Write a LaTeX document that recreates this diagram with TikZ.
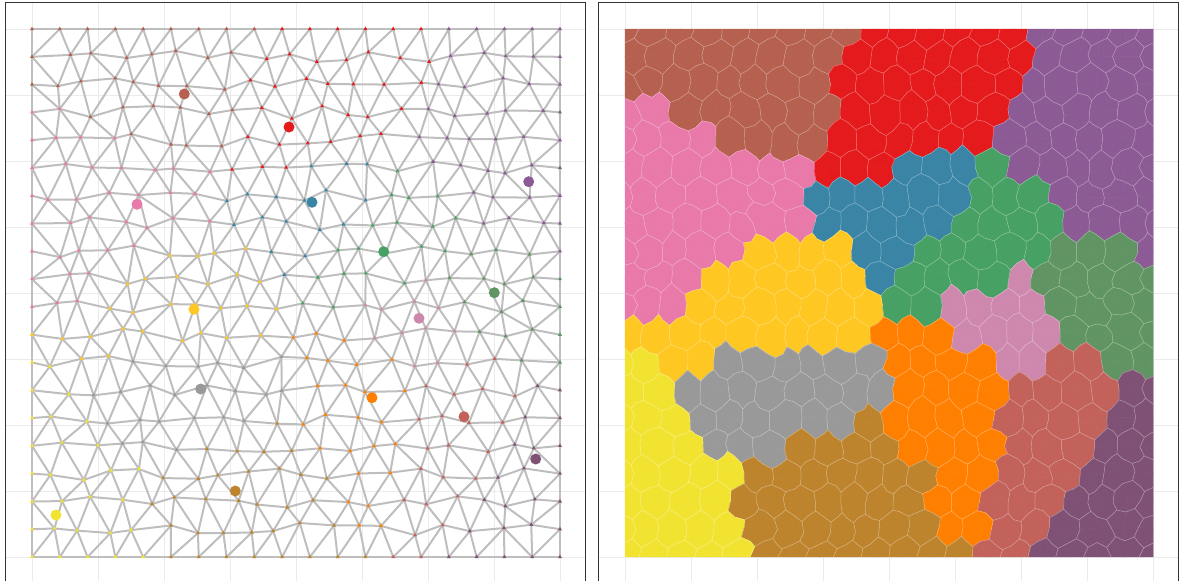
\documentclass[tikz,border=0pt]{standalone}
\usepackage{tikz}
\usetikzlibrary{
  calc
}

\definecolor{cBrick}{HTML}{B6604F}
\definecolor{cRed}{HTML}{E41A1C}
\definecolor{cPink}{HTML}{E879A8}
\definecolor{cBlue}{HTML}{3A84A6}
\definecolor{cPurple}{HTML}{8C5A94}
\definecolor{cGreen}{HTML}{47A064}
\definecolor{cSage}{HTML}{619463}
\definecolor{cGold}{HTML}{FEC722}
\definecolor{cMauve}{HTML}{CE88AE}
\definecolor{cGray}{HTML}{999999}
\definecolor{cOrange}{HTML}{FF7F00}
\definecolor{cSalmon}{HTML}{C2625A}
\definecolor{cPlum}{HTML}{7F5275}
\definecolor{cOchre}{HTML}{BD842D}
\definecolor{cYellow}{HTML}{F2E331}
\definecolor{gridline}{HTML}{EBEBEB}
\definecolor{meshline}{HTML}{BEBEBE}
\definecolor{frameline}{HTML}{333333}

\tikzset{
  meshedge/.style={draw=meshline, line width=2pt, line cap=round},
  panelgrid/.style={draw=gridline, line width=1pt},
  panelframe/.style={draw=frameline, line width=1pt},
  seedpt/.style={circle, inner sep=0pt, minimum size=11pt},
  cellfill/.style={line width=0.5pt, line join=round},
  cellline/.style={draw=white, draw opacity=0.4, line width=0.5pt}
}

\def\seedlist{184.3/94/cBrick,289/127/cRed,137/204.3/cPink,312/202.3/cBlue,528.7/181.7/cPurple,383.7/251.7/cGreen,494.3/292.7/cSage,194/309.3/cGold,419/318.3/cMauve,200.7/389/cGray,372/397.7/cOrange,464/416.7/cSalmon,535.7/459/cPlum,235.3/491/cOchre,56/515/cYellow}

\newcommand\vx[1]{\csname mx#1\endcsname}
\newcommand\vy[1]{\csname my#1\endcsname}

\newcommand\cellpiece[3]{%
  \edef\cAx{\vx{#1}}\edef\cAy{\vy{#1}}%
  \edef\cBx{\vx{#2}}\edef\cBy{\vy{#2}}%
  \edef\cCx{\vx{#3}}\edef\cCy{\vy{#3}}%
  \edef\cA{\csname vc#1\endcsname}%
  \edef\cB{\csname vc#2\endcsname}%
  \edef\cC{\csname vc#3\endcsname}%
  \path[cellfill, fill=\cA, draw=\cA] (\cAx,\cAy) -- ({(\cAx+\cBx)/2},{(\cAy+\cBy)/2})
    -- ({(\cAx+\cBx+\cCx)/3},{(\cAy+\cBy+\cCy)/3}) -- ({(\cAx+\cCx)/2},{(\cAy+\cCy)/2}) -- cycle;
  \path[cellfill, fill=\cB, draw=\cB] (\cBx,\cBy) -- ({(\cBx+\cCx)/2},{(\cBy+\cCy)/2})
    -- ({(\cAx+\cBx+\cCx)/3},{(\cAy+\cBy+\cCy)/3}) -- ({(\cAx+\cBx)/2},{(\cAy+\cBy)/2}) -- cycle;
  \path[cellfill, fill=\cC, draw=\cC] (\cCx,\cCy) -- ({(\cAx+\cCx)/2},{(\cAy+\cCy)/2})
    -- ({(\cAx+\cBx+\cCx)/3},{(\cAy+\cBy+\cCy)/3}) -- ({(\cBx+\cCx)/2},{(\cBy+\cCy)/2}) -- cycle;
}

\newcommand\cellborder[3]{%
  \edef\cAx{\vx{#1}}\edef\cAy{\vy{#1}}%
  \edef\cBx{\vx{#2}}\edef\cBy{\vy{#2}}%
  \edef\cCx{\vx{#3}}\edef\cCy{\vy{#3}}%
  \coordinate (gc) at ({(\cAx+\cBx+\cCx)/3},{(\cAy+\cBy+\cCy)/3});
  \draw[cellline] (gc) -- ({(\cAx+\cBx)/2},{(\cAy+\cBy)/2})
    (gc) -- ({(\cBx+\cCx)/2},{(\cBy+\cCy)/2})
    (gc) -- ({(\cAx+\cCx)/2},{(\cAy+\cCy)/2});
}

\begin{document}
\begin{tikzpicture}[x=1pt,y=-1pt]
  \useasboundingbox (0,0) rectangle (1179,581);

  % panel grids
  \foreach \k in {0,...,8}{
    \draw[panelgrid] ({32+66*\k},2.7) -- ({32+66*\k},582);
    \draw[panelgrid] (5.3,{29+66*\k}) -- (585.7,{29+66*\k});
    \draw[panelgrid] ({625+66*\k},2.7) -- ({625+66*\k},582);
    \draw[panelgrid] (598.3,{29+66*\k}) -- (1178.5,{29+66*\k});
  }

  % mesh vertices, region of each vertex
  \pgfmathsetseed{4711}
  \foreach \i in {0,...,19}{
    \foreach \j in {0,...,19}{
      \pgfmathsetmacro{\dx}{rand*6.5+6*(2*mod(\j,2)-1)}
      \pgfmathsetmacro{\dy}{rand*6.5}
      \ifnum\i=0 \def\dx{0}\def\dy{0}\fi
      \ifnum\i=19 \def\dx{0}\def\dy{0}\fi
      \ifnum\j=0 \def\dx{0}\def\dy{0}\fi
      \ifnum\j=19 \def\dx{0}\def\dy{0}\fi
      \pgfmathsetmacro{\px}{32+27.789*\i+\dx}
      \pgfmathsetmacro{\py}{29+27.789*\j+\dy}
      \expandafter\xdef\csname mx\i-\j\endcsname{\px}
      \expandafter\xdef\csname my\i-\j\endcsname{\py}
      \gdef\bestd{99}\gdef\bestc{cGray}
      \foreach \sx/\sy/\sc in \seedlist{
        \pgfmathsetmacro{\dd}{veclen((\px-\sx)/100,(\py-\sy)/100)}
        \pgfmathtruncatemacro{\closer}{\dd<\bestd}
        \ifnum\closer=1 \xdef\bestd{\dd}\xdef\bestc{\sc}\fi
      }
      \expandafter\xdef\csname vc\i-\j\endcsname{\bestc}
      \coordinate (p-\i-\j) at (\px,\py);
    }
  }

  % shorter diagonal of each quad
  \foreach \i [count=\ii from 1] in {0,...,18}{
    \foreach \j [count=\jj from 1] in {0,...,18}{
      \pgfmathtruncatemacro{\flip}{veclen((\vx{\ii-\jj}-\vx{\i-\j})/100,(\vy{\ii-\jj}-\vy{\i-\j})/100)>veclen((\vx{\i-\jj}-\vx{\ii-\j})/100,(\vy{\i-\jj}-\vy{\ii-\j})/100)}
      \expandafter\xdef\csname dg\i-\j\endcsname{\flip}
    }
  }

  % left: mesh
  \foreach \i [count=\ii from 1] in {0,...,18}{
    \foreach \j in {0,...,19}{
      \draw[meshedge] (p-\i-\j) -- (p-\ii-\j);
      \draw[meshedge] (p-\j-\i) -- (p-\j-\ii);
    }
  }
  \foreach \i [count=\ii from 1] in {0,...,18}{
    \foreach \j [count=\jj from 1] in {0,...,18}{
      \ifnum\csname dg\i-\j\endcsname=1
        \draw[meshedge] (p-\ii-\j) -- (p-\i-\jj);
      \else
        \draw[meshedge] (p-\i-\j) -- (p-\ii-\jj);
      \fi
    }
  }
  \foreach \i in {0,...,19}{
    \foreach \j in {0,...,19}{
      \edef\vcol{\csname vc\i-\j\endcsname}
      \fill[\vcol] (p-\i-\j) ++(0,-2.4) -- ++(2,3.5) -- ++(-4,0) -- cycle;
    }
  }
  \foreach \sx/\sy/\sc in \seedlist{
    \node[seedpt, fill=\sc] (seed-\sc) at (\sx,\sy) {};
  }

  % right: cells
  \begin{scope}[xshift=593pt]
    \foreach \i [count=\ii from 1] in {0,...,18}{
      \foreach \j [count=\jj from 1] in {0,...,18}{
        \ifnum\csname dg\i-\j\endcsname=1
          \cellpiece{\i-\j}{\ii-\j}{\i-\jj}
          \cellpiece{\ii-\j}{\ii-\jj}{\i-\jj}
        \else
          \cellpiece{\i-\j}{\ii-\j}{\ii-\jj}
          \cellpiece{\i-\j}{\ii-\jj}{\i-\jj}
        \fi
      }
    }
    \foreach \i [count=\ii from 1] in {0,...,18}{
      \foreach \j [count=\jj from 1] in {0,...,18}{
        \ifnum\csname dg\i-\j\endcsname=1
          \cellborder{\i-\j}{\ii-\j}{\i-\jj}
          \cellborder{\ii-\j}{\ii-\jj}{\i-\jj}
        \else
          \cellborder{\i-\j}{\ii-\j}{\ii-\jj}
          \cellborder{\i-\j}{\ii-\jj}{\i-\jj}
        \fi
      }
    }
  \end{scope}

  \draw[panelframe] (5.3,2.7) rectangle (585.7,583);
  \draw[panelframe] (598.3,2.7) rectangle (1178.5,583);
\end{tikzpicture}
\end{document}
